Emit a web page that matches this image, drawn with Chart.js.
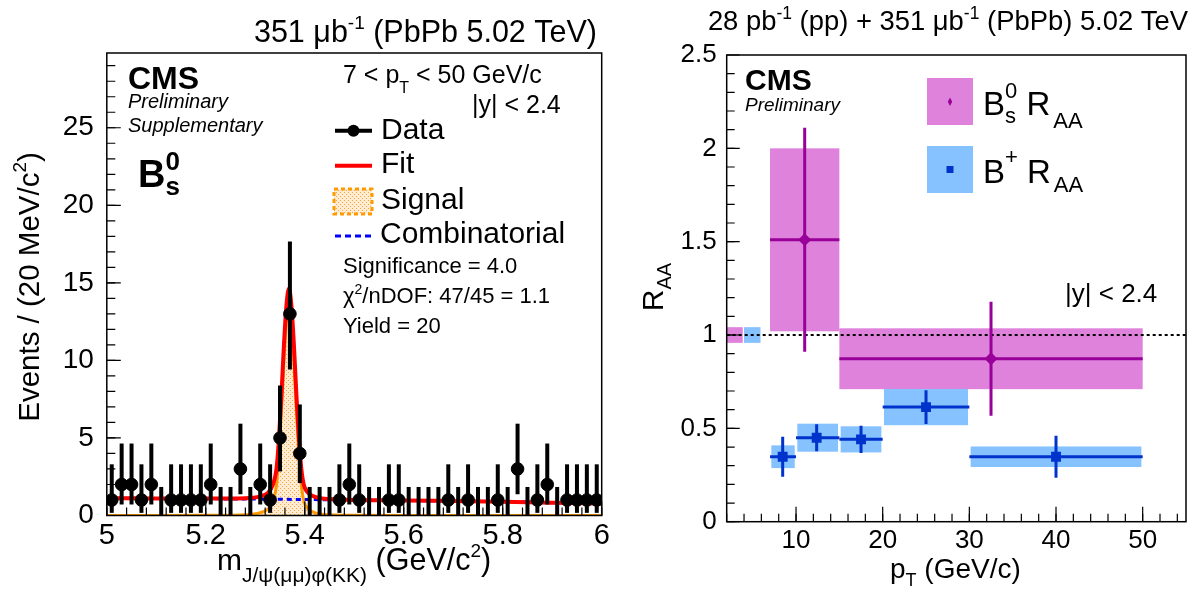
<!DOCTYPE html>
<html>
<head>
<meta charset="utf-8">
<script src="https://cdn.jsdelivr.net/npm/chart.js@4.4.0/dist/chart.umd.min.js"></script>
<style>
  html, body { margin: 0; padding: 0; background: #fff; }
  #wrap { position: relative; width: 1195px; height: 594px; }
  canvas { position: absolute; left: 0; top: 0; }
</style>
</head>
<body>
<div id="wrap">
  <canvas id="mass" width="1195" height="594"></canvas>
  <canvas id="raa" width="1195" height="594"></canvas>
</div>
<script>
const FONT = '"Liberation Sans", Arial, Helvetica, sans-serif';
Chart.defaults.font.family = FONT;
Chart.defaults.color = '#000';

// ---- left panel: B0s candidates, 20 MeV bins ----
const massBins = [5.01, 5.03, 5.05, 5.07, 5.09, 5.11, 5.13, 5.15, 5.17, 5.19,
  5.21, 5.23, 5.25, 5.27, 5.29, 5.31, 5.33, 5.35, 5.37, 5.39,
  5.41, 5.43, 5.45, 5.47, 5.49, 5.51, 5.53, 5.55, 5.57, 5.59,
  5.61, 5.63, 5.65, 5.67, 5.69, 5.71, 5.73, 5.75, 5.77, 5.79,
  5.81, 5.83, 5.85, 5.87, 5.89, 5.91, 5.93, 5.95, 5.97, 5.99];
const counts = [1, 2, 2, 1, 2, 0, 1, 1, 1, 1,
  2, 0, 0, 3, 0, 2, 1, 5, 13, 4,
  0, 0, 0, 1, 2, 1, 0, 0, 1, 1,
  0, 0, 0, 0, 1, 0, 1, 0, 0, 1,
  0, 3, 0, 1, 2, 0, 1, 1, 1, 1];
// poisson error bars by count
const errDown = { 0: 0, 1: 0.83, 2: 1.29, 3: 1.63, 4: 1.91, 5: 2.16, 13: 3.58 };
const errUp = { 0: 1.84, 1: 2.30, 2: 2.64, 3: 2.92, 4: 3.16, 5: 3.38, 13: 4.67 };

const fitMass = [5.00, 5.10, 5.20, 5.28, 5.31, 5.325, 5.335, 5.343, 5.348, 5.353,
  5.358, 5.363, 5.368, 5.373, 5.378, 5.383, 5.388, 5.393, 5.398, 5.405,
  5.415, 5.43, 5.46, 5.50, 5.60, 5.70, 5.80, 5.90, 6.00];
const fitValue = [1.12, 1.10, 1.09, 1.11, 1.23, 1.44, 1.94, 3.04, 5.04, 7.84,
  11.04, 13.54, 14.64, 13.54, 11.04, 7.84, 5.04, 3.04, 1.98, 1.53,
  1.27, 1.12, 1.04, 1.0, 0.97, 0.93, 0.89, 0.83, 0.76];
const signalValue = [0, 0, 0.01, 0.05, 0.18, 0.4, 0.9, 2.0, 4.0, 6.8,
  10.0, 12.5, 13.6, 12.5, 10.0, 6.8, 4.0, 2.0, 0.95, 0.5,
  0.25, 0.1, 0.03, 0.01, 0, 0, 0, 0, 0];
const bkgMass = [5.0, 5.2, 5.4, 5.6, 5.8, 5.9, 6.0];
const bkgValue = [1.12, 1.08, 1.03, 0.97, 0.89, 0.83, 0.76];

// ---- right panel: R_AA vs pT ----
const bsPtLow = [7, 15];
const bsPtHigh = [15, 50];
const bsPt = [11.0, 32.5];
const bsRaa = [1.51, 0.873];
const bsStat = [0.60, 0.305];
const bsSyst = [0.49, 0.163];
const bsGlobal = 0.042;

const bpPtLow = [7, 10, 15, 20, 30];
const bpPtHigh = [10, 15, 20, 30, 50];
const bpPt = [8.46, 12.38, 17.5, 25.0, 40.0];
const bpRaa = [0.348, 0.450, 0.441, 0.614, 0.348];
const bpStat = [0.107, 0.072, 0.073, 0.090, 0.112];
const bpSyst = [0.061, 0.075, 0.070, 0.097, 0.055];
const bpGlobal = 0.042;

const BS_FILL = '#de82dc', BS_LINE = '#990099';
const BP_FILL = '#86c2ff', BP_LINE = '#0033cc';
const ORANGE = '#ff9a00';

// draw a row of text pieces (sub/superscripts via dy)
function rich(ctx, x, y, parts, align) {
  let w = 0;
  parts.forEach(p => {
    ctx.font = `${p.f || ''} ${p.s}px ${FONT}`;
    p.w = ctx.measureText(p.t).width;
    if (!p.stay) w += p.w + (p.gap || 0);
  });
  let cx = align === 'right' ? x - w : align === 'center' ? x - w / 2 : x;
  ctx.textAlign = 'left';
  ctx.textBaseline = 'alphabetic';
  parts.forEach(p => {
    ctx.font = `${p.f || ''} ${p.s}px ${FONT}`;
    ctx.fillText(p.t, cx, y + (p.dy || 0));
    if (!p.stay) cx += p.w + (p.gap || 0);
  });
}

function frame(ctx, a) {
  ctx.strokeStyle = '#000';
  ctx.lineWidth = 1.5;
  ctx.strokeRect(a.left, a.top, a.right - a.left, a.bottom - a.top);
}

function tickMarks(ctx, scale, a, from, to, step, len) {
  ctx.beginPath();
  for (let k = 0; from + k * step <= to + 1e-9; k++) {
    const p = scale.getPixelForValue(from + k * step);
    if (scale.isHorizontal()) {
      ctx.moveTo(p, a.bottom);
      ctx.lineTo(p, a.bottom - len);
    } else {
      ctx.moveTo(a.left, p);
      ctx.lineTo(a.left + len, p);
    }
  }
  ctx.stroke();
}

const num = v => String(+v.toFixed(2));

function stipple(ctx) {
  const c = document.createElement('canvas');
  c.width = 4; c.height = 4;
  const g = c.getContext('2d');
  g.fillStyle = '#ffecd2';
  g.fillRect(0, 0, 4, 4);
  g.fillStyle = '#f7a640';
  g.fillRect(0, 0, 1, 1);
  g.fillRect(2, 2, 1, 1);
  return ctx.createPattern(c, 'repeat');
}

const massCanvas = document.getElementById('mass');
const signalFill = stipple(massCanvas.getContext('2d'));

const massDecor = {
  id: 'massDecor',
  afterDatasetsDraw(chart) {
    const { ctx, scales: { x, y } } = chart;
    ctx.save();
    ctx.strokeStyle = '#000';
    ctx.lineWidth = 4;
    massBins.forEach((m, i) => {
      const n = counts[i];
      const px = x.getPixelForValue(m);
      ctx.beginPath();
      ctx.moveTo(px, y.getPixelForValue(n - errDown[n]));
      ctx.lineTo(px, y.getPixelForValue(n + errUp[n]));
      ctx.stroke();
    });
    ctx.restore();
  },
  afterDraw(chart) {
    const { ctx, chartArea: a, scales: { x, y } } = chart;
    ctx.save();
    frame(ctx, a);
    ctx.lineWidth = 1.2;
    tickMarks(ctx, y, a, 0, 29, 1, 8.5);
    tickMarks(ctx, y, a, 0, 25, 5, 14);
    tickMarks(ctx, x, a, 5, 6, 0.04, 8);
    tickMarks(ctx, x, a, 5, 6, 0.2, 14);

    ctx.fillStyle = '#000';
    rich(ctx, 597, 42, [
      { t: '351 μb', s: 30.5 }, { t: '-1', s: 19, dy: -13 }, { t: ' (PbPb 5.02 TeV)', s: 30.5 }
    ], 'right');
    rich(ctx, 128, 89, [{ t: 'CMS', s: 32, f: 'bold' }]);
    rich(ctx, 128, 108, [{ t: 'Preliminary', s: 20, f: 'italic' }]);
    rich(ctx, 128, 132, [{ t: 'Supplementary', s: 20, f: 'italic' }]);
    rich(ctx, 138, 187, [
      { t: 'B', s: 38, f: 'bold' },
      { t: 's', s: 26, f: 'bold', dy: 8, stay: true },
      { t: '0', s: 26, f: 'bold', dy: -17 }
    ]);
    rich(ctx, 343, 83, [
      { t: '7 < p', s: 25 }, { t: 'T', s: 16, dy: 10 }, { t: ' < 50 GeV/c', s: 25 }
    ]);
    rich(ctx, 472, 113, [{ t: '|y| < 2.4', s: 25 }]);

    // legend
    ctx.lineWidth = 4;
    ctx.strokeStyle = '#000';
    ctx.beginPath(); ctx.moveTo(335, 130.7); ctx.lineTo(372, 130.7); ctx.stroke();
    ctx.beginPath(); ctx.arc(353.5, 130.7, 6, 0, Math.PI * 2); ctx.fill();
    ctx.strokeStyle = '#ff0000';
    ctx.beginPath(); ctx.moveTo(335, 165.7); ctx.lineTo(372, 165.7); ctx.stroke();
    ctx.fillStyle = signalFill;
    ctx.fillRect(334, 189, 38, 25);
    ctx.strokeStyle = ORANGE;
    ctx.lineWidth = 3;
    ctx.setLineDash([4, 3]);
    ctx.strokeRect(334, 189, 38, 25);
    ctx.strokeStyle = '#0000ff';
    ctx.setLineDash([6, 4]);
    ctx.beginPath(); ctx.moveTo(335, 236); ctx.lineTo(372, 236); ctx.stroke();
    ctx.setLineDash([]);
    ctx.fillStyle = '#000';
    rich(ctx, 381, 139, [{ t: 'Data', s: 30 }]);
    rich(ctx, 381, 173.3, [{ t: 'Fit', s: 30 }]);
    rich(ctx, 381, 209, [{ t: 'Signal', s: 30 }]);
    rich(ctx, 380, 243.3, [{ t: 'Combinatorial', s: 30 }]);

    rich(ctx, 343, 272.7, [{ t: 'Significance = 4.0', s: 22 }]);
    rich(ctx, 343, 303.3, [
      { t: 'χ', s: 22 }, { t: '2', s: 14, dy: -9 }, { t: '/nDOF: 47/45 = 1.1', s: 22 }
    ]);
    rich(ctx, 343, 333.3, [{ t: 'Yield = 20', s: 22 }]);

    // axis titles
    rich(ctx, 217, 570, [
      { t: 'm', s: 30 }, { t: 'J/ψ(μμ)φ(KK)', s: 21, dy: 12 },
      { t: ' (GeV/c', s: 30.5 }, { t: '2', s: 19, dy: -13 }, { t: ')', s: 30.5 }
    ]);
    ctx.translate(39, 287);
    ctx.rotate(-Math.PI / 2);
    rich(ctx, 0, 0, [
      { t: 'Events / (20 MeV/c', s: 29.5 }, { t: '2', s: 19, dy: -13 }, { t: ')', s: 29.5 }
    ], 'center');
    ctx.restore();
  }
};

new Chart(massCanvas, {
  type: 'line',
  data: {
    datasets: [
      {
        type: 'scatter',
        data: massBins.map((m, i) => ({ x: m, y: counts[i] })),
        backgroundColor: '#000',
        borderColor: '#000',
        pointRadius: counts.map(n => (n > 0 ? 6.3 : 0)),
        order: 0
      },
      {
        data: fitMass.map((m, i) => ({ x: m, y: fitValue[i] })),
        borderColor: '#ff0000',
        borderWidth: 4,
        pointRadius: 0,
        cubicInterpolationMode: 'monotone',
        fill: false,
        order: 1
      },
      {
        data: bkgMass.map((m, i) => ({ x: m, y: bkgValue[i] })),
        borderColor: '#0000ff',
        borderWidth: 3,
        borderDash: [5, 4],
        pointRadius: 0,
        cubicInterpolationMode: 'monotone',
        fill: false,
        order: 2
      },
      {
        data: fitMass.map((m, i) => ({ x: m, y: signalValue[i] })),
        borderColor: ORANGE,
        borderWidth: 3,
        backgroundColor: signalFill,
        pointRadius: 0,
        cubicInterpolationMode: 'monotone',
        fill: 'origin',
        order: 3
      }
    ]
  },
  options: {
    responsive: false,
    animation: false,
    events: [],
    layout: { padding: { left: 0, top: 53, right: 1195 - 601.7, bottom: 0 } },
    plugins: { legend: { display: false }, tooltip: { enabled: false } },
    scales: {
      x: {
        type: 'linear', min: 5, max: 6,
        afterFit: s => { s.height = 78.5; },
        grid: { display: false }, border: { display: false },
        ticks: { stepSize: 0.2, font: { size: 29 }, padding: -5, maxRotation: 0, callback: num }
      },
      y: {
        type: 'linear', min: 0, max: 29.82,
        afterFit: s => { s.width = 106.8; },
        grid: { display: false }, border: { display: false },
        ticks: { stepSize: 5, includeBounds: false, font: { size: 28 }, padding: 5, callback: num }
      }
    }
  },
  plugins: [massDecor]
});

// ---- right panel ----
const raaDecor = {
  id: 'raaDecor',
  beforeDatasetsDraw(chart) {
    const { ctx, chartArea: a, scales: { x, y } } = chart;
    const box = (x0, x1, y0, y1, color) => {
      const l = x.getPixelForValue(x0), r = x.getPixelForValue(x1);
      const t = y.getPixelForValue(y1), b = y.getPixelForValue(y0);
      ctx.fillStyle = color;
      ctx.fillRect(l, t, r - l, b - t);
    };
    ctx.save();
    box(2, 3.85, 1 - bsGlobal, 1 + bsGlobal, BS_FILL);
    box(4, 5.9, 1 - bpGlobal, 1 + bpGlobal, BP_FILL);
    bsRaa.forEach((v, i) => box(bsPtLow[i], bsPtHigh[i], v - bsSyst[i], v + bsSyst[i], BS_FILL));
    bpRaa.forEach((v, i) => box(bpPtLow[i] + 0.15, bpPtHigh[i] - 0.15, v - bpSyst[i], v + bpSyst[i], BP_FILL));

    ctx.strokeStyle = '#000';
    ctx.lineWidth = 2;
    ctx.setLineDash([3, 3]);
    ctx.beginPath();
    ctx.moveTo(a.left, y.getPixelForValue(1));
    ctx.lineTo(a.right, y.getPixelForValue(1));
    ctx.stroke();
    ctx.setLineDash([]);

    const bars = (lo, hi, pt, v, stat, color) => {
      ctx.strokeStyle = color;
      ctx.lineWidth = 3;
      v.forEach((val, i) => {
        const py = y.getPixelForValue(val);
        ctx.beginPath();
        ctx.moveTo(x.getPixelForValue(lo[i]), py);
        ctx.lineTo(x.getPixelForValue(hi[i]), py);
        const px = x.getPixelForValue(pt[i]);
        ctx.moveTo(px, y.getPixelForValue(val - stat[i]));
        ctx.lineTo(px, y.getPixelForValue(val + stat[i]));
        ctx.stroke();
      });
    };
    bars(bsPtLow, bsPtHigh, bsPt, bsRaa, bsStat, BS_LINE);
    bars(bpPtLow, bpPtHigh, bpPt, bpRaa, bpStat, BP_LINE);
    ctx.restore();
  },
  afterDraw(chart) {
    const { ctx, chartArea: a, scales: { x, y } } = chart;
    ctx.save();
    frame(ctx, a);
    ctx.lineWidth = 1.2;
    tickMarks(ctx, x, a, 2, 54, 2, 8);
    tickMarks(ctx, x, a, 10, 50, 10, 15);
    tickMarks(ctx, y, a, 0, 2.4, 0.1, 8);
    tickMarks(ctx, y, a, 0, 2.5, 0.5, 13);

    ctx.fillStyle = '#000';
    rich(ctx, 1188, 30, [
      { t: '28 pb', s: 27.4 }, { t: '-1', s: 17.5, dy: -11.5 }, { t: ' (pp) + 351 μb', s: 27.4 },
      { t: '-1', s: 17.5, dy: -11.5 }, { t: ' (PbPb) 5.02 TeV', s: 27.4 }
    ], 'right');
    rich(ctx, 745, 90, [{ t: 'CMS', s: 30, f: 'bold' }]);
    rich(ctx, 745, 111, [{ t: 'Preliminary', s: 19, f: 'italic' }]);
    rich(ctx, 1065, 302, [{ t: '|y| < 2.4', s: 26 }]);

    // legend
    ctx.fillStyle = BS_FILL;
    ctx.fillRect(927, 78, 46, 47);
    ctx.fillStyle = BP_FILL;
    ctx.fillRect(927, 146, 46, 47);
    ctx.fillStyle = BS_LINE;
    ctx.beginPath();
    ctx.moveTo(950, 97.5); ctx.lineTo(952.2, 101.7); ctx.lineTo(950, 105.9); ctx.lineTo(947.8, 101.7);
    ctx.closePath(); ctx.fill();
    ctx.fillStyle = BP_LINE;
    ctx.fillRect(946.5, 166, 7, 7);
    ctx.fillStyle = '#000';
    rich(ctx, 983, 115, [
      { t: 'B', s: 33 }, { t: 's', s: 22, dy: 8, stay: true }, { t: '0', s: 22, dy: -17 },
      { t: ' R', s: 33, gap: 3 }, { t: 'AA', s: 22, dy: 13 }
    ]);
    rich(ctx, 983, 182.7, [
      { t: 'B', s: 33 }, { t: '+', s: 22, dy: -19 }, { t: ' R', s: 33, gap: 3 }, { t: 'AA', s: 22, dy: 9 }
    ]);

    rich(ctx, 890, 578, [
      { t: 'p', s: 28 }, { t: 'T', s: 18, dy: 8 }, { t: ' (GeV/c)', s: 28 }
    ]);
    ctx.translate(662.7, 287);
    ctx.rotate(-Math.PI / 2);
    rich(ctx, 0, 0, [{ t: 'R', s: 30 }, { t: 'AA', s: 20, dy: 8 }], 'center');
    ctx.restore();
  }
};

new Chart(document.getElementById('raa'), {
  type: 'scatter',
  data: {
    datasets: [
      {
        data: bsPt.map((p, i) => ({ x: p, y: bsRaa[i] })),
        pointStyle: 'rectRot',
        pointRadius: 6.5,
        backgroundColor: BS_LINE,
        borderColor: BS_LINE,
        borderWidth: 0
      },
      {
        data: bpPt.map((p, i) => ({ x: p, y: bpRaa[i] })),
        pointStyle: 'rect',
        pointRadius: 7,
        backgroundColor: BP_LINE,
        borderColor: BP_LINE,
        borderWidth: 0
      }
    ]
  },
  options: {
    responsive: false,
    animation: false,
    events: [],
    layout: { padding: { left: 610, top: 55, right: 1195 - 1186, bottom: 0 } },
    plugins: { legend: { display: false }, tooltip: { enabled: false } },
    scales: {
      x: {
        type: 'linear', min: 2, max: 55,
        afterFit: s => { s.height = 594 - 521.7; },
        grid: { display: false }, border: { display: false },
        ticks: { stepSize: 10, includeBounds: false, font: { size: 26 }, padding: -4, maxRotation: 0, callback: num }
      },
      y: {
        type: 'linear', min: 0, max: 2.5,
        afterFit: s => { s.width = 726.7 - 610; },
        grid: { display: false }, border: { display: false },
        ticks: { stepSize: 0.5, font: { size: 26 }, padding: 2, callback: num }
      }
    }
  },
  plugins: [raaDecor]
});
</script>
</body>
</html>
